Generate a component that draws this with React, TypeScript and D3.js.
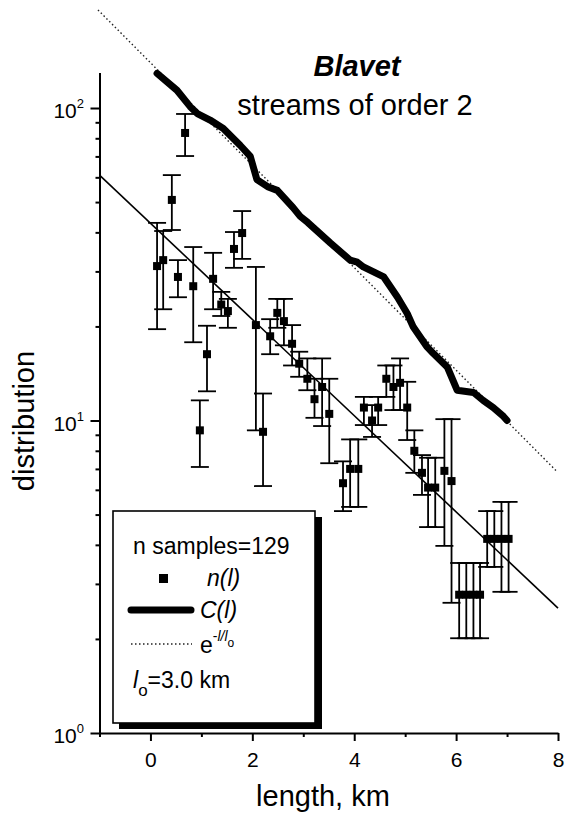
import { useEffect, useRef } from "react";
import * as d3 from "d3";

const W = 567;
const H = 818;
const FONT = "'Liberation Sans', Arial, Helvetica, sans-serif";

// C(l): cumulative distribution
const cumLength = [0.13, 0.52, 0.78, 0.92, 1.17, 1.43, 1.76, 1.96, 2.09, 2.3, 2.49, 2.8, 2.94, 3.09, 3.53, 3.92, 4.06, 4.18, 4.58, 4.85, 5.04, 5.16, 5.43, 5.55, 5.83, 6.02, 6.34, 6.53, 6.73, 6.93, 7.0];
const cumValue = [129, 114, 101, 96, 91.5, 86, 76, 70, 59, 56, 54.5, 48, 45, 43, 37, 32.6, 32.1, 31, 28.8, 24.8, 22, 19.9, 17.2, 16.4, 14.8, 12.5, 12.3, 11.6, 11.0, 10.3, 10.0];

// n(l): histogram with error bars
const nLength = [0.13, 0.25, 0.42, 0.54, 0.68, 0.84, 0.97, 1.11, 1.23, 1.39, 1.52, 1.64, 1.8, 2.07, 2.21, 2.35, 2.49, 2.62, 2.78, 2.92, 3.08, 3.22, 3.37, 3.51, 3.78, 3.92, 4.08, 4.19, 4.35, 4.47, 4.63, 4.77, 4.9, 5.04, 5.18, 5.33, 5.45, 5.59, 5.77, 5.91, 6.06, 6.2, 6.34, 6.47, 6.61, 6.75, 6.89, 7.03];
const nValue = [31.2, 32.6, 50.8, 28.8, 83.2, 26.9, 9.3, 16.3, 28.4, 23.5, 22.4, 35.4, 39.8, 20.2, 9.2, 18.6, 22.1, 20.8, 17.6, 15.2, 13.6, 11.7, 12.8, 10.5, 6.3, 7.0, 7.0, 11.0, 10.0, 11.0, 13.6, 12.8, 13.2, 11.0, 8.0, 6.8, 6.1, 6.1, 6.9, 6.4, 2.77, 2.77, 2.77, 2.77, 4.18, 4.18, 4.18, 4.18];
const nHigh = [42.9, 40.4, 61.0, 32.6, 95.7, 35.9, 11.6, 20.1, 34.4, 25.8, 24.5, 40.1, 46.8, 31.0, 12.2, 21.1, 24.5, 24.5, 20.2, 16.6, 15.8, 13.6, 15.8, 13.6, 7.4, 8.7, 8.7, 11.9, 11.2, 11.9, 15.0, 15.0, 15.8, 13.3, 9.3, 7.75, 7.6, 7.6, 10.1, 10.1, 3.5, 3.5, 3.5, 3.5, 5.13, 5.13, 5.49, 5.49];
const nLow = [19.6, 22.7, 40.7, 24.8, 70.2, 17.8, 7.1, 12.4, 22.7, 21.6, 19.8, 30.8, 32.9, 9.3, 6.17, 16.3, 19.8, 17.4, 15.0, 13.8, 12.5, 10.2, 9.6, 7.3, 5.13, 5.29, 5.29, 9.67, 8.86, 9.67, 11.9, 10.8, 10.8, 8.66, 6.8, 5.78, 4.56, 4.56, 3.97, 2.61, 2.01, 2.01, 2.01, 2.01, 3.4, 3.4, 2.83, 2.83];

// exponential fits, straight on the log axis: end points only
const fitNLength = [-1, 8];
const fitNValue = [61.0, 2.51];
const fitCLength = [-1.03, 7.99];
const fitCValue = [206, 6.84];

const xTickValues = [-1, 0, 1, 2, 3, 4, 5, 6, 7, 8];
const xTickLabels = ["0", "2", "4", "6", "8"];
const yDecades = [0, 1, 2];
const yMinor = [2, 3, 4, 5, 6, 7, 8, 9, 20, 30, 40, 50, 60, 70, 80, 90];

export default function App() {
  const svgRef = useRef<SVGSVGElement>(null);

  useEffect(() => {
    const svg = svgRef.current;
    if (!svg) return;
    const root = d3.select(svg);
    root.selectAll("*").remove();

    const x = d3.scaleLinear().domain([-1, 8]).range([99.5, 558]);
    const y = d3.scaleLog().domain([1, 130]).range([733, 72.4]);

    const line = d3
      .line<[number, number]>()
      .x((d) => x(d[0]))
      .y((d) => y(d[1]));

    const g = root.append("g").attr("font-family", FONT);

    // dotted exponential for C(l)
    g.append("path")
      .datum(fitCLength.map((l, i) => [l, fitCValue[i]] as [number, number]))
      .attr("fill", "none")
      .attr("stroke", "#222")
      .attr("stroke-width", 1.4)
      .attr("stroke-dasharray", "1.5,2.5")
      .attr("d", line);

    // solid exponential for n(l)
    g.append("path")
      .datum(fitNLength.map((l, i) => [l, fitNValue[i]] as [number, number]))
      .attr("fill", "none")
      .attr("stroke", "#000")
      .attr("stroke-width", 1.6)
      .attr("d", line);

    // error bars
    const bars = g.append("g").attr("stroke", "#000").attr("stroke-width", 1.8);
    nLength.forEach((l, i) => {
      const px = x(l);
      bars.append("line").attr("x1", px).attr("x2", px).attr("y1", y(nHigh[i])).attr("y2", y(nLow[i]));
      bars.append("line").attr("x1", px - 9).attr("x2", px + 9).attr("y1", y(nHigh[i])).attr("y2", y(nHigh[i]));
      bars.append("line").attr("x1", px - 9).attr("x2", px + 9).attr("y1", y(nLow[i])).attr("y2", y(nLow[i]));
    });

    g.append("g")
      .selectAll("rect")
      .data(nLength)
      .join("rect")
      .attr("x", (d) => x(d) - 4)
      .attr("y", (_, i) => y(nValue[i]) - 4)
      .attr("width", 8)
      .attr("height", 8)
      .attr("fill", "#000");

    // C(l) thick curve
    g.append("path")
      .datum(cumLength.map((l, i) => [l, cumValue[i]] as [number, number]))
      .attr("fill", "none")
      .attr("stroke", "#000")
      .attr("stroke-width", 7)
      .attr("stroke-linejoin", "round")
      .attr("stroke-linecap", "round")
      .attr("d", line);

    // x axis
    const xAxis = g
      .append("g")
      .attr("transform", `translate(0,${y(1)})`)
      .call(
        d3
          .axisBottom(x)
          .tickValues(xTickValues)
          .tickSizeOuter(0)
          .tickFormat((d) => (xTickLabels.includes(String(d)) ? String(d) : ""))
      );
    xAxis.attr("font-size", 21).attr("font-family", FONT);
    xAxis.select(".domain").attr("stroke-width", 2);
    xAxis.selectAll(".tick line").attr("stroke-width", 2).attr("y2", (d: any) => (d % 2 === 0 ? 8 : 4));
    xAxis.selectAll(".tick text").attr("y", 34).attr("dy", null).attr("fill", "#000");

    // y axis
    const yAxis = g
      .append("g")
      .attr("transform", `translate(${x(-1)},0)`)
      .call(
        d3
          .axisLeft(y)
          .tickValues([...yDecades.map((k) => Math.pow(10, k)), ...yMinor])
          .tickSizeOuter(0)
          .tickFormat(() => "")
      );
    yAxis.select(".domain").attr("stroke-width", 2);
    yAxis
      .selectAll(".tick line")
      .attr("stroke-width", 2)
      .attr("x2", (d: any) => (yDecades.includes(Math.log10(d)) ? -9 : -4));

    yDecades.forEach((k) => {
      const t = g
        .append("text")
        .attr("x", 84)
        .attr("y", y(Math.pow(10, k)) + 10)
        .attr("text-anchor", "end")
        .attr("font-size", 21)
        .attr("fill", "#000");
      t.append("tspan").text("10");
      t.append("tspan").attr("dy", -10).attr("font-size", 13).text(String(k));
    });

    // axis titles
    g.append("text")
      .attr("x", 323)
      .attr("y", 806)
      .attr("text-anchor", "middle")
      .attr("font-size", 29)
      .text("length, km");

    g.append("text")
      .attr("transform", `translate(34,421) rotate(-90)`)
      .attr("text-anchor", "middle")
      .attr("font-size", 29)
      .text("distribution");

    // title
    g.append("text")
      .attr("x", 357)
      .attr("y", 76)
      .attr("text-anchor", "middle")
      .attr("font-size", 29)
      .attr("font-weight", "bold")
      .attr("font-style", "italic")
      .text("Blavet");
    g.append("text")
      .attr("x", 355)
      .attr("y", 115)
      .attr("text-anchor", "middle")
      .attr("font-size", 29)
      .text("streams of order 2");

    // legend
    const lg = g.append("g");
    lg.append("rect").attr("x", 119).attr("y", 517).attr("width", 203).attr("height", 212).attr("fill", "#000");
    lg.append("rect")
      .attr("x", 113)
      .attr("y", 511)
      .attr("width", 202)
      .attr("height", 212)
      .attr("fill", "#fff")
      .attr("stroke", "#000")
      .attr("stroke-width", 1.6);

    lg.append("text").attr("x", 133).attr("y", 554).attr("font-size", 23).text("n samples=129");

    lg.append("rect").attr("x", 159).attr("y", 574).attr("width", 9).attr("height", 9).attr("fill", "#000");
    lg.append("text").attr("x", 207).attr("y", 586).attr("font-size", 23).attr("font-style", "italic").text("n(l)");

    lg.append("line")
      .attr("x1", 131)
      .attr("x2", 191)
      .attr("y1", 610)
      .attr("y2", 610)
      .attr("stroke", "#000")
      .attr("stroke-width", 7)
      .attr("stroke-linecap", "round");
    lg.append("text").attr("x", 200).attr("y", 618).attr("font-size", 23).attr("font-style", "italic").text("C(l)");

    lg.append("line")
      .attr("x1", 131)
      .attr("x2", 192)
      .attr("y1", 644)
      .attr("y2", 644)
      .attr("stroke", "#222")
      .attr("stroke-width", 1.4)
      .attr("stroke-dasharray", "1.5,2.5");
    const e = lg.append("text").attr("x", 200).attr("y", 653).attr("font-size", 23);
    e.append("tspan").text("e");
    e.append("tspan").attr("dy", -12).attr("font-size", 14).text("-");
    e.append("tspan").attr("font-size", 14).attr("font-style", "italic").text("l/l");
    e.append("tspan").attr("dy", 6).attr("font-size", 12).text("o");

    const lo = lg.append("text").attr("x", 133).attr("y", 688).attr("font-size", 23);
    lo.append("tspan").attr("font-style", "italic").text("l");
    lo.append("tspan").attr("dy", 8).attr("font-size", 17).text("o");
    lo.append("tspan").attr("dy", -8).text("=3.0 km");
  }, []);

  return (
    <svg
      ref={svgRef}
      width={W}
      height={H}
      viewBox={`0 0 ${W} ${H}`}
      style={{ position: "absolute", left: 0, top: 0, background: "#fff" }}
    />
  );
}
